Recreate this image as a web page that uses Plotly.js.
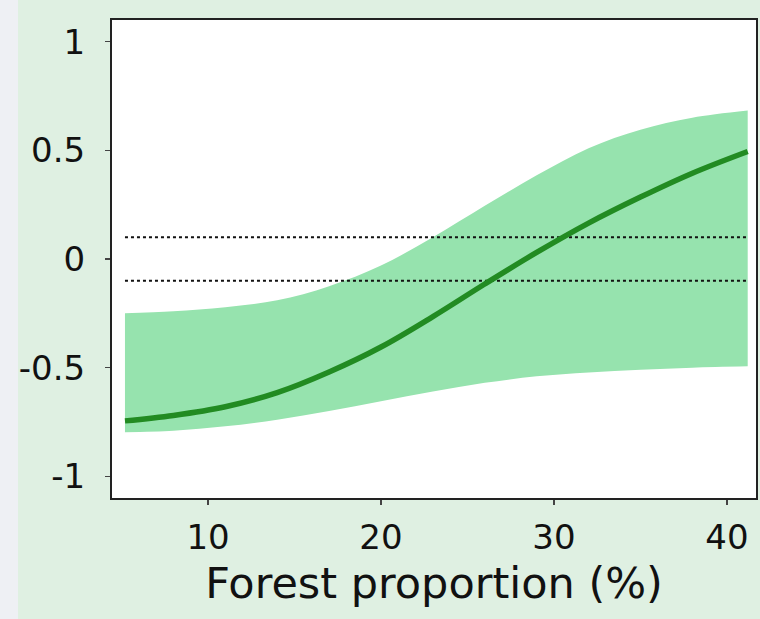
<!DOCTYPE html>
<html>
<head>
<meta charset="utf-8">
<script src="https://cdn.plot.ly/plotly-3.0.1.min.js"></script>
<style>
  html, body { margin: 0; padding: 0; background: #eef0f4; width: 760px; height: 619px; overflow: hidden; }
  #chart { position: absolute; left: 18px; top: 0; width: 742px; height: 619px; }
</style>
</head>
<body>
<div id="chart"></div>
<script>
// Forest proportion (%) sample positions
const forestPct = [5.2, 8, 11, 14, 17, 20, 23, 26, 29, 32, 35, 38, 41.2];
// Fitted effect
const fitted   = [-0.745, -0.72, -0.68, -0.615, -0.52, -0.405, -0.265, -0.115, 0.03, 0.165, 0.285, 0.395, 0.495];
// Confidence band
const upperCI  = [-0.25, -0.24, -0.222, -0.19, -0.125, -0.03, 0.10, 0.245, 0.385, 0.51, 0.595, 0.65, 0.683];
const lowerCI  = [-0.797, -0.79, -0.77, -0.74, -0.70, -0.655, -0.61, -0.57, -0.54, -0.522, -0.51, -0.50, -0.494];
// Reference thresholds
const thresholds = [0.1, -0.1];
const xTicks = [10, 20, 30, 40];
const yTicks = [-1, -0.5, 0, 0.5, 1];
const yTickLabels = ['-1', '-0.5', '0', '0.5', '1'];

const xMin = forestPct[0], xMax = forestPct[forestPct.length - 1];

const traces = [
  { x: forestPct, y: lowerCI, type: 'scatter', mode: 'lines', line: { width: 0, color: 'rgba(0,0,0,0)', shape: 'spline' }, hoverinfo: 'skip', showlegend: false },
  { x: forestPct, y: upperCI, type: 'scatter', mode: 'lines', fill: 'tonexty', fillcolor: '#96e3ae', line: { width: 0, color: 'rgba(0,0,0,0)', shape: 'spline' }, hoverinfo: 'skip', showlegend: false }
];
thresholds.forEach(t => {
  traces.push({ x: [xMin, xMax], y: [t, t], type: 'scatter', mode: 'lines', line: { color: '#111', width: 2, dash: 'dot' }, showlegend: false });
});
traces.push({ x: forestPct, y: fitted, type: 'scatter', mode: 'lines', line: { color: '#228b22', width: 5.5, shape: 'spline' }, showlegend: false });

const layout = {
  width: 742, height: 619,
  margin: { l: 94, r: 4, t: 20, b: 121 },
  paper_bgcolor: '#dff0e2',
  plot_bgcolor: '#ffffff',
  font: { family: 'DejaVu Sans, sans-serif', color: '#111' },
  xaxis: {
    range: [4.45, 41.68],
    tickvals: xTicks,
    ticks: 'outside', ticklen: 5, tickcolor: '#444', tickwidth: 1.5,
    ticklabelstandoff: 3,
    showgrid: false, zeroline: false,
    showline: true, mirror: true, linecolor: '#222', linewidth: 2,
    tickfont: { size: 34, color: '#111' },
    title: { text: 'Forest proportion (%)', font: { size: 43, color: '#111' }, standoff: 12 }
  },
  yaxis: {
    range: [-1.1, 1.1],
    tickvals: yTicks, ticktext: yTickLabels,
    ticks: 'outside', ticklen: 5, tickcolor: '#444', tickwidth: 1.5,
    ticklabelstandoff: 13,
    showgrid: false, zeroline: false,
    showline: true, mirror: true, linecolor: '#222', linewidth: 2,
    tickfont: { size: 34, color: '#111' }
  }
};

Plotly.newPlot('chart', traces, layout, { staticPlot: true });
</script>
</body>
</html>
